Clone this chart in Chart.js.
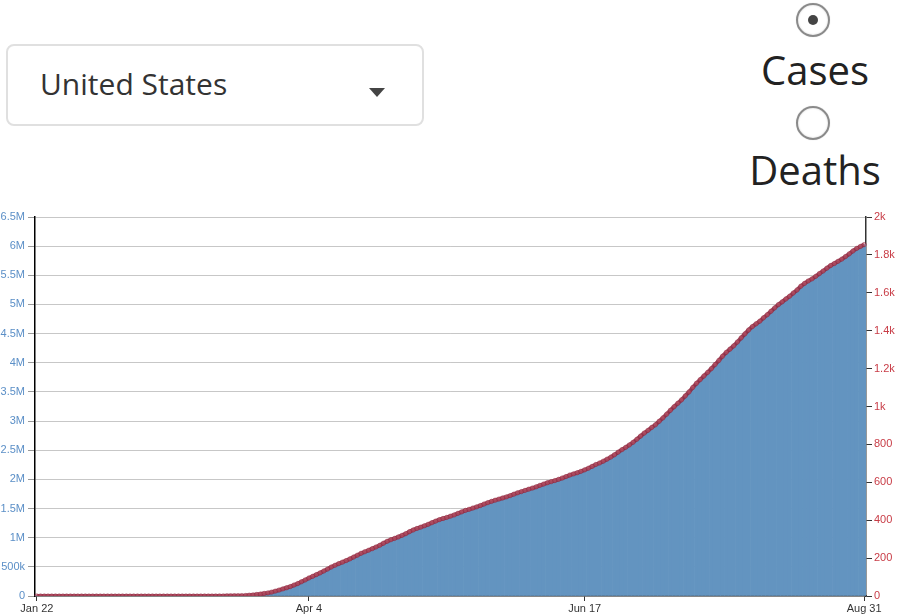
<!DOCTYPE html>
<html>
<head>
<meta charset="utf-8">
<script src="https://cdn.jsdelivr.net/npm/chart.js@4.4.1/dist/chart.umd.min.js"></script>
<style>
  body { margin: 0; background: #fff; font-family: "Open Sans", sans-serif; color: #333; }
  .picker { position: absolute; left: 6px; top: 44px; width: 414px; height: 78px; border: 2px solid #e0e0e0; border-radius: 8px; }
  .picker span { position: absolute; left: 32px; top: 23px; font-size: 30px; line-height: 30px; color: #333; }
  .caret { position: absolute; left: 361px; top: 42px; width: 0; height: 0; border-left: 8.5px solid transparent; border-right: 8.5px solid transparent; border-top: 9px solid #444; }
  .radio { position: absolute; left: 796px; width: 30px; height: 30px; border: 2.5px solid #8a8a8a; border-radius: 50%; box-shadow: inset 0 0 2px #ccc, 0 0 1px #ccc; }
  .radio.on::after { content: ""; position: absolute; left: 10px; top: 10px; width: 10px; height: 10px; border-radius: 50%; background: #444; }
  .lbl { position: absolute; left: 715px; width: 200px; text-align: center; font-size: 40px; line-height: 40px; color: #222; }
  #wrap { position: absolute; left: 0; top: 200px; width: 904px; height: 414px; }
</style>
</head>
<body>
<div class="picker"><span>United States</span><div class="caret"></div></div>
<div class="radio on" style="top:3px"></div>
<div class="lbl" style="top:50px">Cases</div>
<div class="radio" style="top:106px"></div>
<div class="lbl" style="top:150px">Deaths</div>
<div id="wrap"><canvas id="chart"></canvas></div>
<script>
// cumulative cases per day (Jan 22 .. Aug 31)
var startDate = [2020, 0, 22];
var casesJan = [1, 1, 2, 2, 5, 5, 5, 5, 5, 7];
var casesFeb = [8, 8, 11, 11, 11, 11, 11, 11, 11, 11, 12, 12, 13, 13, 13, 13, 13, 13, 13, 13,
  15, 15, 15, 51, 51, 57, 58, 60, 68];
var casesMar = [74, 98, 118, 149, 217, 262, 402, 518, 583, 959, 1281, 1663, 2179, 2726, 3499, 4632,
  6421, 7786, 13680, 19101, 25493, 33276, 43847, 53740, 65778, 83836, 101657, 121465, 140909,
  161831, 188172];
var casesApr = [213372, 243762, 275586, 308853, 337072, 366667, 396223, 429052, 461437, 496535,
  526396, 555313, 580619, 607670, 636350, 667592, 699706, 732197, 759086, 784326, 811865, 840351,
  869170, 905358, 938154, 965785, 988197, 1012582, 1039909, 1069424];
var casesMay = [1103461, 1132539, 1158040, 1180375, 1204351, 1229331, 1257023, 1283929, 1309550,
  1329260, 1347881, 1369376, 1390406, 1417774, 1442824, 1467820, 1486757, 1508308, 1528568,
  1551853, 1577147, 1600937, 1622612, 1643246, 1662302, 1680913, 1699933, 1721750, 1746019,
  1770165, 1790172];
var casesJun = [1811020, 1831821, 1851520, 1872660, 1897838, 1920061, 1942363, 1961185, 1979850,
  2000702, 2023590, 2048986, 2074526, 2094069, 2114026, 2137731, 2163290, 2191052, 2222579,
  2255119, 2280912, 2312303, 2347102, 2381369, 2422312, 2467554, 2510259, 2549069, 2590552,
  2636538];
var casesJul = [2687588, 2742049, 2795163, 2841241, 2891124, 2936077, 2996098, 3054699, 3117946,
  3184633, 3245925, 3304942, 3364157, 3431574, 3499398, 3576221, 3647715, 3711413, 3773260,
  3834677, 3899211, 3970121, 4038816, 4112531, 4178970, 4233923, 4290337, 4356205, 4426982,
  4495224, 4562038];
var casesAug = [4620444, 4668166, 4713540, 4771087, 4823890, 4883582, 4941755, 4997929, 5044864,
  5094400, 5141208, 5197411, 5248958, 5313055, 5361165, 5403213, 5438325, 5482416, 5529789,
  5573847, 5622540, 5667112, 5701793, 5739724, 5777710, 5821819, 5867785, 5917440, 5961094,
  5995412, 6026895];
var xTickLabels = ["Jan 22", "Apr 4", "Jun 17", "Aug 31"];
var monthNames = ["Jan", "Feb", "Mar", "Apr", "May", "Jun", "Jul", "Aug", "Sep", "Oct", "Nov", "Dec"];

var cases = [].concat(casesJan, casesFeb, casesMar, casesApr, casesMay, casesJun, casesJul, casesAug);

// day labels
var labels = [];
for (var i = 0; i < cases.length; i++) {
  var d = new Date(startDate[0], startDate[1], startDate[2] + i);
  labels.push(monthNames[d.getMonth()] + " " + d.getDate());
}
var tickIdx = xTickLabels.map(function(l) { return labels.indexOf(l); });

var tickFont = { family: "'Liberation Sans', Arial, sans-serif", size: 11 };

function fmtCases(v) {
  if (v === 0) return "0";
  if (v < 1000000) return (v / 1000) + "k";
  return (v / 1000000) + "M";
}

new Chart(document.getElementById("chart"), {
  type: "bar",
  data: {
    labels: labels,
    datasets: [
      {
        type: "line",
        data: cases,
        yAxisID: "y",
        borderColor: "rgba(140,38,62,0.85)",
        borderWidth: 4,
        pointRadius: 2.2,
        pointBackgroundColor: "rgba(200,90,105,0.5)",
        pointBorderColor: "rgba(140,38,62,0.45)",
        pointBorderWidth: 1,
        tension: 0,
        order: 0
      },
      {
        data: cases,
        yAxisID: "y",
        backgroundColor: "#6394c0",
        borderWidth: 0,
        barPercentage: 1,
        categoryPercentage: 1,
        order: 1
      }
    ]
  },
  options: {
    responsive: true,
    maintainAspectRatio: false,
    animation: false,
    layout: { padding: { top: 17, left: 0, right: 0, bottom: 0 } },
    plugins: { legend: { display: false }, tooltip: { enabled: false } },
    scales: {
      x: {
        offset: true,
        grid: { offset: false, drawOnChartArea: false, tickColor: "#333", tickLength: 5 },
        border: { color: "#444", width: 1.5 },
        ticks: { autoSkip: false, maxRotation: 0, padding: 1, color: "#333", font: tickFont },
        afterBuildTicks: function(axis) {
          axis.ticks = tickIdx.map(function(v) { return { value: v }; });
        },
        afterFit: function(axis) { axis.height = 18; }
      },
      y: {
        position: "left",
        min: 0,
        max: 6500000,
        z: 1,
        grid: { color: "rgba(0,0,0,0.22)", tickColor: "#999", tickLength: 7 },
        border: { color: "#000", width: 1.5 },
        ticks: { stepSize: 500000, color: "#5b8fc7", padding: 3, font: tickFont, callback: fmtCases },
        afterFit: function(axis) { axis.width = 35; }
      },
      y1: {
        position: "right",
        min: 0,
        max: 2000,
        grid: { drawOnChartArea: false, tickColor: "#333", tickLength: 6 },
        border: { color: "#333", width: 1.5 },
        ticks: {
          stepSize: 200, color: "#c83c46", padding: 2, font: tickFont,
          callback: function(v) { return v >= 1000 ? (v / 1000) + "k" : v; }
        },
        afterFit: function(axis) { axis.width = 38; }
      }
    }
  }
});
</script>
</body>
</html>
